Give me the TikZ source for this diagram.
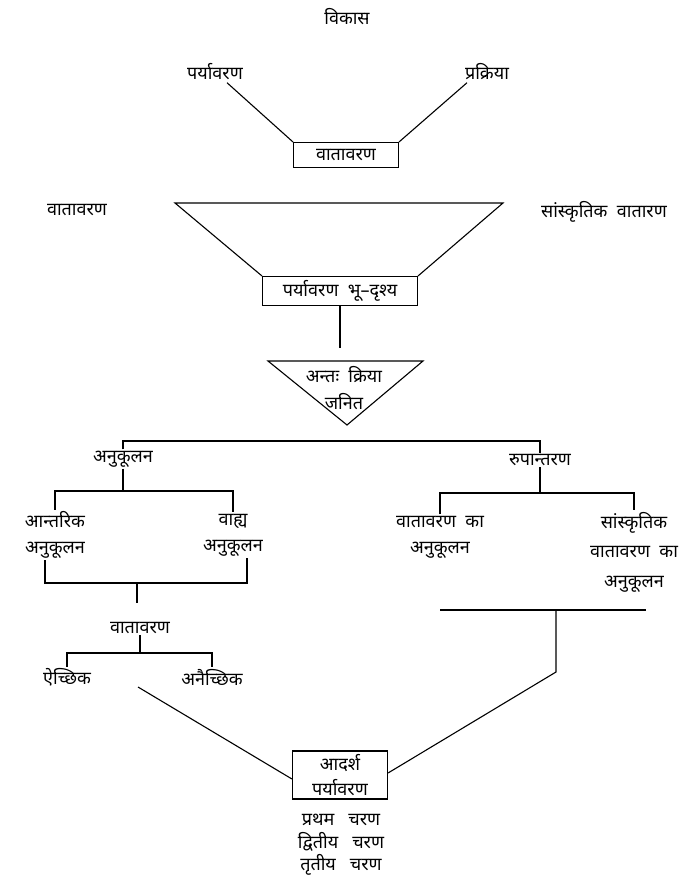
\documentclass[tikz,border=0pt]{standalone}
\usepackage{fontspec}
\newfontfamily\hindi[Script=Devanagari]{Noto Sans}
\usepackage{tikz}
\usetikzlibrary{positioning,calc}

\begin{document}
\begin{tikzpicture}[x=1pt,y=-1pt,line width=1.1pt,
    every node/.style={font=\hindi\fontsize{18}{26}\selectfont,inner sep=1pt,align=center},
    frame/.style={draw,inner sep=3pt}]
    \useasboundingbox (0,0) rectangle (681,882);

    % top part
    \node (vikas) at (347,17) {विकास};
    \node (pary) at (215,72) {पर्यावरण};
    \node (prak) at (487,72) {प्रक्रिया};
    \node[frame,minimum width=105pt,minimum height=25pt] (vat1) at (346,155) {वातावरण};
    \draw ([xshift=12pt,yshift=-1pt]pary.south) -- (vat1.north west);
    \draw ([xshift=-20pt,yshift=-1pt]prak.south) -- (vat1.north east);

    \node (vat2) at (77,210) {वातावरण};
    \node (sansk) at (604,212) {सांस्कृतिक\ \ वातारण};
    \node[frame,minimum width=155pt,minimum height=29pt] (bhu) at (340,291) {पर्यावरण\ \ भू–दृश्य};
    \draw (bhu.north west) -- (175,203) -- (503,203) -- (bhu.north east);

    % interaction triangle
    \draw (268,361) coordinate (tl) -- (423,361) coordinate (tr) -- (347,425) coordinate (ta) -- cycle;
    \node (antah) at (344,388) {अन्तः\ \ क्रिया\\[1pt]जनित};
    \draw (bhu.south) -- (bhu.south |- 0,348);

    % two branches
    \node (anuk) at (123,459) {अनुकूलन};
    \node (rup) at (540,460) {रुपान्तरण};
    \draw (anuk.north) -- (anuk.north |- 0,441) -| (rup.north);

    \node (antar) at (55,535) {आन्तरिक\\अनुकूलन};
    \node (bahya) at (233,535) {वाह्य\\अनुकूलन};
    \draw (anuk.south) -- (anuk.south |- 0,491) coordinate (lj);
    \draw (antar.north) |- (lj) -| (bahya.north);

    \node (vatka) at (440,537) {वातावरण\ \ का\\अनुकूलन};
    \node (sansvat) at (634,552) {सांस्कृतिक\\[3.5pt]वातावरण\ \ का\\[3.5pt]अनुकूलन};
    \draw (rup.south) -- (rup.south |- 0,493) coordinate (rj);
    \draw (vatka.north) |- (rj) -| (sansvat.north);

    % left lower
    \node (vat3) at (140,628) {वातावरण};
    \coordinate (lb) at (137,583);
    \draw ([xshift=-10pt]antar.south) |- (lb) -| ([xshift=14pt]bahya.south);
    \draw (lb) -- (lb |- 0,603);
    \node (aich) at (67,677) {ऐच्छिक};
    \node (anaich) at (212,677) {अनैच्छिक};
    \draw (vat3.south) -- (vat3.south |- 0,653) coordinate (vj);
    \draw (aich.north) |- (vj) -| (anaich.north);

    % ideal environment
    \node[frame,minimum width=95pt,minimum height=48pt] (adarsh) at (340,775) {आदर्श\\[-1pt]पर्यावरण};
    \node[font=\hindi\fontsize{18}{22.5}\selectfont] (charan) at (341,845) {प्रथम\ \ \ चरण\\द्वितीय\ \ \ चरण\\तृतीय\ \ \ चरण};
    \coordinate (ld) at (138,687);
    \draw (ld) -- ([yshift=-4pt]adarsh.west);

    \draw (440,610) coordinate (rl) -- (646,610) coordinate (rr);
    \draw (556,610) coordinate (rm) -- (556,672) -- ([yshift=2pt]adarsh.east);
\end{tikzpicture}
\end{document}
